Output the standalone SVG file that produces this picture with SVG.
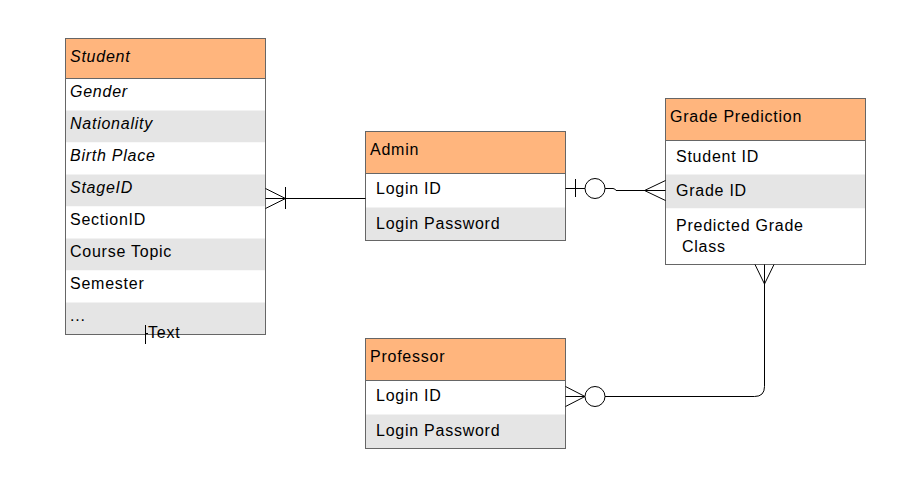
<svg xmlns="http://www.w3.org/2000/svg" width="898" height="495" viewBox="0 0 898 495">
<style>
.hdr{fill:#FFB57D}
.wht{fill:#FFFFFF}
.gry{fill:#E5E5E5}
.frame{fill:none;stroke:#666666;stroke-width:1}
.sep{stroke:#666666;stroke-width:1}
text{font-family:"Liberation Sans",Arial,sans-serif;font-size:16px;letter-spacing:0.75px;fill:#000000}
.it{font-style:italic}
.ln{fill:none;stroke:#000000;stroke-width:1}
</style>
<rect width="898" height="495" fill="#FFFFFF"/>
<g id="student">
<rect class="hdr" x="65.5" y="38.5" width="200" height="40"/>
<rect class="wht" x="65.5" y="78.5" width="200" height="32"/>
<rect class="gry" x="65.5" y="110.5" width="200" height="32"/>
<rect class="wht" x="65.5" y="142.5" width="200" height="32"/>
<rect class="gry" x="65.5" y="174.5" width="200" height="32"/>
<rect class="wht" x="65.5" y="206.5" width="200" height="32"/>
<rect class="gry" x="65.5" y="238.5" width="200" height="32"/>
<rect class="wht" x="65.5" y="270.5" width="200" height="32"/>
<rect class="gry" x="65.5" y="302.5" width="200" height="32"/>
<line class="sep" x1="65.5" y1="78.5" x2="265.5" y2="78.5"/>
<rect class="frame" x="65.5" y="38.5" width="200" height="296"/>
<text class="it" x="70" y="62">Student</text>
<text class="it" x="70" y="97">Gender</text>
<text class="it" x="70" y="129">Nationality</text>
<text class="it" x="70" y="161">Birth Place</text>
<text class="it" x="70" y="193">StageID</text>
<text x="70" y="225">SectionID</text>
<text x="70" y="257">Course Topic</text>
<text x="70" y="289">Semester</text>
<text x="70" y="321">...</text>
</g>
<g id="admin">
<rect class="hdr" x="365.5" y="131.5" width="200" height="42"/>
<rect class="wht" x="365.5" y="173.5" width="200" height="34"/>
<rect class="gry" x="365.5" y="207.5" width="200" height="33"/>
<line class="sep" x1="365.5" y1="173.5" x2="565.5" y2="173.5"/>
<rect class="frame" x="365.5" y="131.5" width="200" height="109"/>
<text x="370" y="155">Admin</text>
<text x="376" y="194">Login ID</text>
<text x="376" y="229">Login Password</text>
</g>
<g id="grade-prediction">
<rect class="hdr" x="665.5" y="98.5" width="200" height="42"/>
<rect class="wht" x="665.5" y="140.5" width="200" height="34"/>
<rect class="gry" x="665.5" y="174.5" width="200" height="34"/>
<rect class="wht" x="665.5" y="208.5" width="200" height="56"/>
<line class="sep" x1="665.5" y1="140.5" x2="865.5" y2="140.5"/>
<rect class="frame" x="665.5" y="98.5" width="200" height="166"/>
<text x="670" y="122">Grade Prediction</text>
<text x="676" y="162">Student ID</text>
<text x="676" y="196">Grade ID</text>
<text x="676" y="231">Predicted Grade</text>
<text x="682" y="252">Class</text>
</g>
<g id="professor">
<rect class="hdr" x="365.5" y="338.5" width="200" height="42"/>
<rect class="wht" x="365.5" y="380.5" width="200" height="34"/>
<rect class="gry" x="365.5" y="414.5" width="200" height="34"/>
<line class="sep" x1="365.5" y1="380.5" x2="565.5" y2="380.5"/>
<rect class="frame" x="365.5" y="338.5" width="200" height="110"/>
<text x="370" y="362">Professor</text>
<text x="376" y="401">Login ID</text>
<text x="376" y="436">Login Password</text>
</g>
<g id="connectors">
<!-- Student - Admin -->
<path class="ln" d="M265.5 198.5 H365.5"/>
<path class="ln" d="M265.5 188.5 L285.5 198.5 L265.5 208.5"/>
<path class="ln" d="M285.5 187 V209"/>
<!-- Admin - Grade Prediction -->
<path class="ln" d="M565.5 188.5 H585"/>
<path class="ln" d="M575.5 179 V197"/>
<circle class="ln" cx="595" cy="188.5" r="10" fill="#FFFFFF"/>
<path class="ln" d="M605 188.5 H613 Q615 188.5 616 190.5 H665.5"/>
<path class="ln" d="M665.5 180.5 L644.5 190.5 L665.5 200.5"/>
<!-- Grade Prediction - Professor -->
<path class="ln" d="M764.5 264.5 V386.5 Q764.5 396.5 754.5 396.5 H605"/>
<path class="ln" d="M755 264.5 L764.5 284 L774 264.5"/>
<circle class="ln" cx="595" cy="396.5" r="10" fill="#FFFFFF"/>
<path class="ln" d="M565.5 396.5 H585"/>
<path class="ln" d="M565.5 386.5 L585 396.5 L565.5 406.5"/>
<!-- dangling connector with label -->
<path class="ln" d="M145.5 325 V344"/>
<path class="ln" d="M145.5 333.5 H148"/>
<text x="148" y="338">Text</text>
</g>
</svg>
